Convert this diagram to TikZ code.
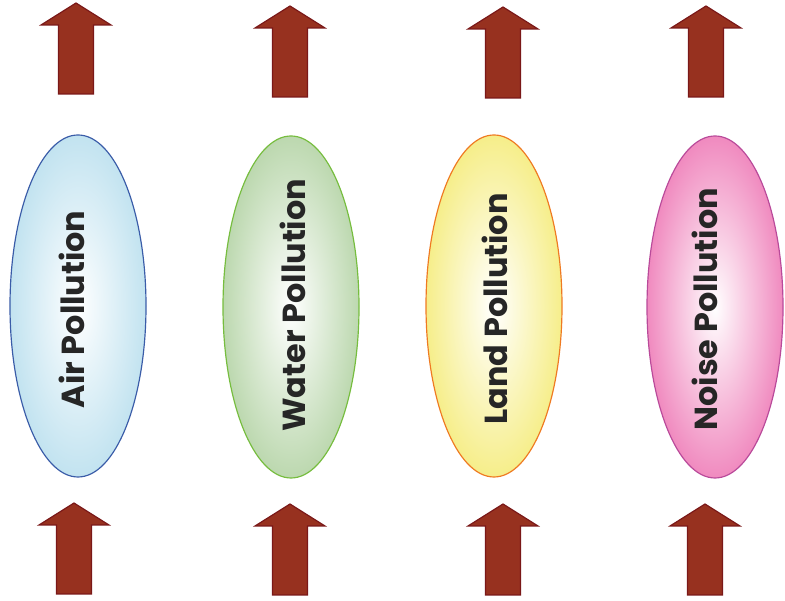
\documentclass[tikz,border=0pt]{standalone}
\usepackage{fontspec}
\setmainfont{Poppins}
\usetikzlibrary{shapes.geometric}
\definecolor{arrow-red}{HTML}{97311F}
\definecolor{arrow-dark}{HTML}{7A1818}
\definecolor{air-blue}{HTML}{C2E3F0}
\definecolor{air-line}{HTML}{3A5CA8}
\definecolor{water-green}{HTML}{BCD8AF}
\definecolor{water-line}{HTML}{76BD3E}
\definecolor{land-yellow}{HTML}{F6EE8A}
\definecolor{land-line}{HTML}{EF7A22}
\definecolor{noise-pink}{HTML}{F08ABF}
\definecolor{noise-line}{HTML}{B94A9A}
\colorlet{air-fill}{air-blue}
\colorlet{water-fill}{water-green}
\colorlet{land-fill}{land-yellow}
\colorlet{noise-fill}{noise-pink}

\begin{document}
\begin{tikzpicture}[
    x=0.03cm, y=0.03cm,
    blob/.style={ellipse, draw=#1-line, line width=1pt, inner sep=0pt,
                 minimum width=4.08cm, minimum height=10.26cm,
                 shading=radial, inner color=white, outer color=#1-fill},
    caption/.style={rotate=90, inner sep=0pt, text=black!85,
                    font=\bfseries\fontsize{27.2}{29}\selectfont},
    uparrow/.pic={
        \draw[fill=arrow-red, draw=arrow-dark, line width=1pt, line join=miter]
            (-17.5,0) -- (17.5,0) -- (17.5,69) -- (35,69) -- (0,91)
            -- (-35,69) -- (-17.5,69) -- cycle;
    },
]
    \useasboundingbox (0,0) rectangle (785,601);

    % pollution ovals
    \node[blob=air] (air) at (78,295) {};
    \node[blob=water] (water) at (291,294) {};
    \node[blob=land] (land) at (494,295) {};
    \node[blob=noise] (noise) at (715,294) {};

    % labels, rotated (xshift runs up the page, yshift to the left)
    \node[caption, xshift=-3pt, yshift=5.5pt] (air-text) at (air) {Air Pollution};
    \node[caption, xshift=1.5pt, yshift=-1.5pt] (water-text) at (water) {Water Pollution};
    \node[caption, xshift=-2.5pt, yshift=-1pt] (land-text) at (land) {Land Pollution};
    \node[caption, xshift=-2pt, yshift=9pt] (noise-text) at (noise) {Noise Pollution};

    % arrows above
    \pic at (76,507) {uparrow};
    \pic at (290,504) {uparrow};
    \pic at (503,503) {uparrow};
    \pic at (706,504) {uparrow};

    % arrows below
    \pic at (74,7) {uparrow};
    \pic at (290,6) {uparrow};
    \pic at (503,6) {uparrow};
    \pic at (705,6) {uparrow};
\end{tikzpicture}
\end{document}
